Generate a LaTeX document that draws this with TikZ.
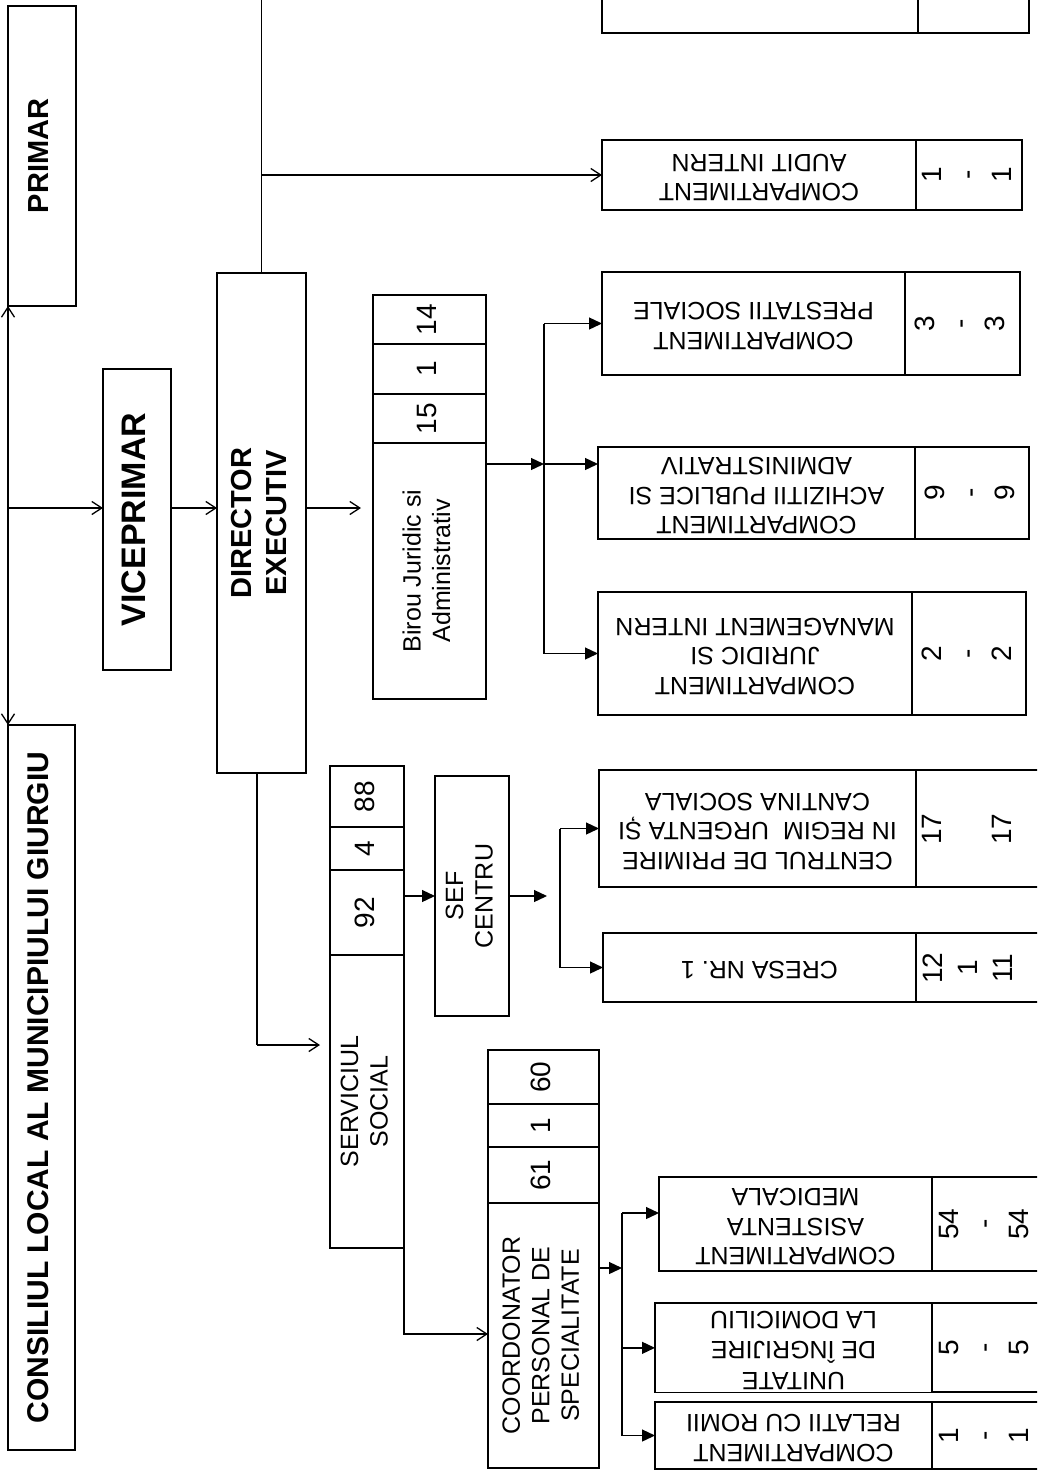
\documentclass[tikz,border=0pt]{standalone}
\usepackage{fontspec}
\setmainfont{Liberation Sans}
\usetikzlibrary{arrows.meta}
\newcommand{\rtx}[2]{\rotatebox{#1}{\begin{tabular}{@{}c@{}}#2\end{tabular}}}
\newcommand{\cell}[7][]{\node[box,#1,minimum width={((#4)-(#2))*1pt},minimum height={((#5)-(#3))*1pt}] (#6) at (#2,#3) {#7};}
\newcommand{\fbig}{\fontsize{29}{35}\selectfont\bfseries}
\newcommand{\fcons}{\fontsize{30}{36}\selectfont\bfseries}
\newcommand{\fvice}{\fontsize{34}{40}\selectfont\bfseries}
\tikzset{
  box/.style={draw, line width=1.5pt, rectangle, inner sep=0pt, outer sep=0pt, anchor=north west},
  lbl/.style={font=\fontsize{25}{29.5}\selectfont},
  num/.style={font=\fontsize{28}{35}\selectfont},
  numt/.style={inner sep=0pt, font=\fontsize{28}{35}\selectfont},
  con/.style={line width=1.3pt},
  oarr/.style={con, -{Straight Barb[length=10pt,width=13pt]}},
  farr/.style={con, -{Triangle[length=13pt,width=12pt]}},
}
\begin{document}
\begin{tikzpicture}[x=1pt,y=-1pt]
\path[use as bounding box] (0,0) rectangle (1037,1473);
\clip (0,0) rectangle (1037,1473);
% left column
\cell[font=\fbig]{8}{6}{76}{306}{primar}{\rtx{90}{PRIMAR}}
\cell[font=\fcons]{8}{725}{75}{1450}{cons}{\rtx{90}{CONSILIUL LOCAL AL MUNICIPIULUI GIURGIU}}
\cell[font=\fvice]{103}{369}{171}{670}{vice}{\rtx{90}{VICEPRIMAR}}
\cell[font=\fbig]{217}{273}{306}{773}{dir}{\rtx{90}{DIRECTOR\\EXECUTIV}}
% Birou
\cell[num]{373}{295}{486}{344}{b14}{\rtx{90}{14}}
\cell[num]{373}{344}{486}{394}{b1}{\rtx{90}{1}}
\cell[num]{373}{394}{486}{443}{b15}{\rtx{90}{15}}
\cell[lbl]{373}{443}{486}{699}{birou}{\rtx{90}{Birou Juridic si\\Administrativ}}
% Serviciul social
\cell[num]{330}{766}{404}{827}{s88}{\rtx{90}{88}}
\cell[num]{330}{827}{404}{870}{s4}{\rtx{90}{4}}
\cell[num]{330}{870}{404}{955}{s92}{\rtx{90}{92}}
\cell[lbl]{330}{955}{404}{1248}{serv}{\rtx{90}{SERVICIUL\\SOCIAL}}
\cell[lbl]{435}{776}{509}{1016}{sef}{\rtx{90}{SEF\\CENTRU}}
% Coordonator
\cell[num]{488}{1050}{599}{1104}{k60}{\rtx{90}{60}}
\cell[num]{488}{1104}{599}{1147}{k1}{\rtx{90}{1}}
\cell[num]{488}{1147}{599}{1203}{k61}{\rtx{90}{61}}
\cell[lbl]{488}{1203}{599}{1468}{coord}{\rtx{90}{COORDONATOR\\PERSONAL DE\\SPECIALITATE}}
% right boxes
\cell{602}{-20}{918}{33}{topl}{}
\cell{918}{-20}{1029}{33}{topn}{}
\cell[lbl]{602}{140}{916}{210}{audit}{\rtx{180}{COMPARTIMENT\\AUDIT INTERN}}
\cell[num]{916}{140}{1022}{210}{auditn}{\rtx{90}{1\\-\\1}}
\cell[lbl]{602}{272}{905}{375}{prest}{\rtx{180}{COMPARTIMENT\\PRESTATII SOCIALE}}
\cell[num]{905}{272}{1020}{375}{prestn}{\rtx{90}{3\\-\\3}}
\cell[lbl]{598}{447}{915}{539}{achiz}{\rtx{180}{COMPARTIMENT\\ACHIZITII PUBLICE SI\\ADMINISTRATIV}}
\cell[num]{915}{447}{1029}{539}{achizn}{\rtx{90}{9\\-\\9}}
\cell[lbl]{598}{592}{912}{715}{jur}{\rtx{180}{COMPARTIMENT\\JURIDIC SI\\MANAGEMENT INTERN}}
\cell[num]{912}{592}{1026}{715}{jurn}{\rtx{90}{2\\-\\2}}
\cell[lbl]{599}{770}{916}{887}{centru}{\rtx{180}{CENTRUL DE PRIMIRE\\IN REGIM~~URGENTA ȘI\\CANTINA SOCIALA}}
\cell{916}{770}{1060}{887}{centrun}{}
\node[numt] (centrut) at (969,829) {\rtx{90}{17\\ \\17}};
\cell[lbl]{603}{933}{916}{1002}{cresa}{\rtx{180}{CRESA NR. 1}}
\cell{916}{933}{1060}{1002}{cresan}{}
\node[numt] (cresat) at (970,968) {\rtx{90}{12\\1\\11}};
\cell[lbl]{659}{1177}{932}{1271}{asist}{\rtx{180}{COMPARTIMENT\\ASISTENTA\\MEDICALA}}
\cell{932}{1177}{1060}{1271}{asistn}{}
\node[numt] (asistt) at (986,1224) {\rtx{90}{54\\-\\54}};
\cell[lbl]{655}{1303}{932}{1392}{unit}{\rtx{180}{UNITATE\\DE ÎNGRIJIRE\\LA DOMICILIU}}
\cell{932}{1303}{1060}{1392}{unitn}{}
\node[numt] (unitt) at (986,1348) {\rtx{90}{5\\-\\5}};
\cell[lbl]{655}{1402}{932}{1469}{rel}{\rtx{180}{COMPARTIMENT\\RELATII CU ROMII}}
\cell{932}{1402}{1060}{1469}{reln}{}
\node[numt] (relt) at (986,1436) {\rtx{90}{1\\-\\1}};
% connectors
\coordinate (j0) at (8,508);
\draw[oarr] (j0) -- (primar.south west);
\draw[oarr] (j0) -- (cons.north west);
\draw[oarr] (j0) -- (j0 -| vice.west);
\draw[oarr] (vice.east |- j0) -- (dir.west |- j0);
\draw[oarr,shorten >=12pt] (dir.east |- j0) -- (birou.west |- j0);
\draw[con] (dir.north) -- ++(0,-300);
\draw[oarr] (dir.north |- audit.west) -- (audit.west);
% birou branch
\coordinate (jb) at (544,464);
\draw[farr] (birou.east |- jb) -- (jb);
\draw[con] (jb |- prest.west) -- (jb |- jur.west);
\draw[farr] (jb |- prest.west) -- (prest.west);
\draw[farr] (jb) -- (jb -| achiz.west);
\draw[farr] (jb |- jur.west) -- (jur.west);
% serviciu social
\coordinate (js) at (257,1045);
\draw[con] (dir.south -| js) -- (js);
\draw[oarr,shorten >=10pt] (js) -- (js -| serv.west);
\draw[farr] (s92.east |- sef.west) -- (sef.west);
\coordinate (jc) at (560,896);
\draw[farr,shorten >=13pt] (sef.east) -- (jc);
\draw[con] (jc |- centru.west) -- (jc |- cresa.west);
\draw[farr] (jc |- centru.west) -- (centru.west);
\draw[farr] (jc |- cresa.west) -- (cresa.west);
% coordonator
\coordinate (jk) at (404,1334);
\draw[oarr] (serv.south east) -- (jk) -- (jk -| coord.west);
\coordinate (jd) at (622,1268);
\coordinate (ja) at (622,1213);
\draw[farr] (coord.east |- jd) -- (jd);
\draw[con] (ja) -- (jd |- rel.west);
\draw[farr] (ja) -- (ja -| asist.west);
\draw[farr] (jd |- unit.west) -- (unit.west);
\draw[farr] (jd |- rel.west) -- (rel.west);
\end{tikzpicture}
\end{document}
